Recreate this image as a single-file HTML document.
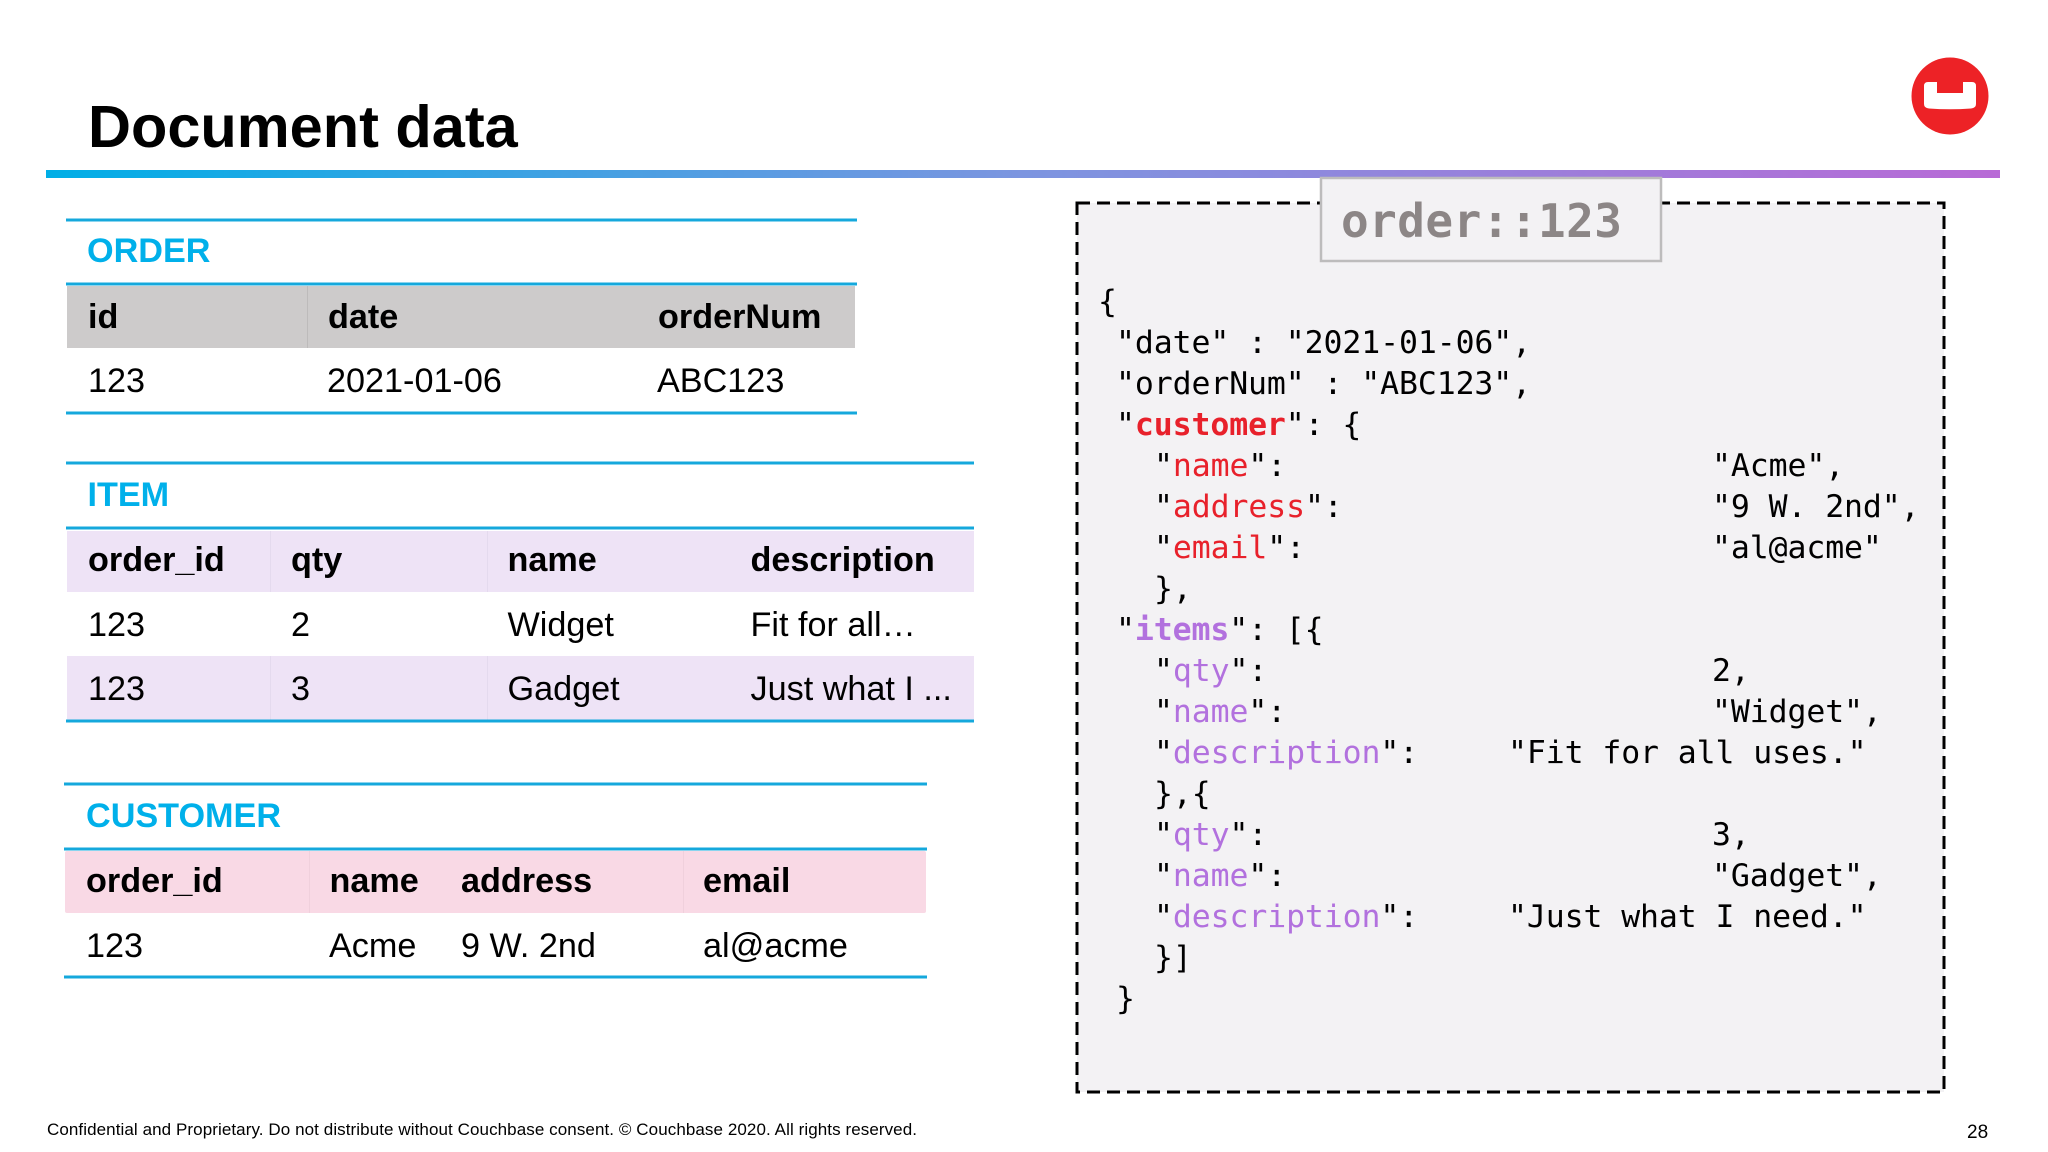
<!DOCTYPE html>
<html><head><meta charset="utf-8"><style>
html,body{margin:0;padding:0;background:#fff;width:2048px;height:1152px;overflow:hidden}
svg{display:block}
.s{font-family:"Liberation Sans",sans-serif;font-size:34.2px;fill:#000}
.b{font-weight:bold}
.t{fill:#00b0ea;font-weight:bold}
.m{font-family:"DejaVu Sans Mono","Liberation Mono",monospace;font-size:31.5px;letter-spacing:-.1px;fill:#000;white-space:pre}
.r{fill:#e8212b}
.p{fill:#b271de}
</style></head><body>
<svg width="2048" height="1152" viewBox="0 0 2048 1152" xmlns="http://www.w3.org/2000/svg">
<defs><linearGradient id="g" x1="0" x2="1" y1="0" y2="0"><stop offset="0" stop-color="#00aee6"/><stop offset=".5" stop-color="#7c95e0"/><stop offset="1" stop-color="#b86ad6"/></linearGradient></defs>
<rect width="2048" height="1152" fill="#fff"/>
<text x="88" y="147" font-family="Liberation Sans" font-weight="bold" font-size="59.500">Document data</text>
<rect x="46" y="170" width="1954" height="8" fill="url(#g)"/>
<circle cx="1950" cy="96" r="38.5" fill="#ed2226"/>
<path d="M1928 82H1937V93H1963V82H1972Q1976 82 1976 86V104Q1976 108 1971 108.500Q1950 110 1929 108.500Q1924 108 1924 104V86Q1924 82 1928 82Z" fill="#fff"/>

<!-- ORDER -->
<rect x="67" y="286" width="788" height="62" fill="#cdcbcb"/>
<rect x="307" y="286" width="1" height="62" fill="#bdbbbb"/>
<g fill="#15a8dc"><rect x="66" y="218.500" width="791" height="3"/><rect x="66" y="282.500" width="791" height="3"/><rect x="66" y="411.500" width="791" height="3"/></g>
<text class="s t" x="87" y="262">ORDER</text>
<g class="s b"><text x="88" y="328">id</text><text x="328" y="328">date</text><text x="658" y="328">orderNum</text></g>
<g class="s"><text x="88" y="392">123</text><text x="327" y="392">2021-01-06</text><text x="657" y="392">ABC123</text></g>

<!-- ITEM -->
<rect x="67" y="531" width="907" height="61" fill="#eee3f6"/>
<rect x="67" y="656" width="907" height="64" fill="#eee3f6"/>
<g fill="#e4daee"><rect x="270" y="531" width="1" height="61"/><rect x="487" y="531" width="1" height="61"/><rect x="270" y="656" width="1" height="64"/><rect x="487" y="656" width="1" height="64"/></g>
<g fill="#15a8dc"><rect x="66" y="461.500" width="908" height="3"/><rect x="66" y="526.500" width="908" height="3"/><rect x="66" y="719.500" width="908" height="3"/></g>
<text class="s t" x="87.500" y="506">ITEM</text>
<g class="s b"><text x="88" y="571">order_id</text><text x="291" y="571">qty</text><text x="507.500" y="571">name</text><text x="750.500" y="571">description</text></g>
<g class="s"><text x="88" y="636">123</text><text x="291" y="636">2</text><text x="507.500" y="636">Widget</text><text x="750.500" y="636">Fit for all…</text>
<text x="88" y="700">123</text><text x="291" y="700">3</text><text x="507.500" y="700">Gadget</text><text x="750.500" y="700">Just what I ...</text></g>

<!-- CUSTOMER -->
<rect x="65" y="851" width="861" height="62" rx="2" fill="#f9d9e5"/>
<g fill="#f0d0dc"><rect x="309" y="851" width="1" height="62"/><rect x="683" y="851" width="1" height="62"/></g>
<g fill="#15a8dc"><rect x="64" y="782.500" width="863" height="3"/><rect x="64" y="847.500" width="863" height="3"/><rect x="64" y="975.500" width="863" height="3"/></g>
<text class="s t" x="86" y="827">CUSTOMER</text>
<g class="s b"><text x="86" y="892">order_id</text><text x="329.500" y="892">name</text><text x="461" y="892">address</text><text x="703" y="892">email</text></g>
<g class="s"><text x="86" y="957">123</text><text x="329" y="957">Acme</text><text x="461" y="957">9 W. 2nd</text><text x="703" y="957">al@acme</text></g>

<!-- Document box -->
<rect x="1077" y="203" width="867" height="889" fill="#f3f2f4" stroke="#000" stroke-width="3" stroke-dasharray="13 7"/>
<rect x="1321" y="178" width="340" height="83" fill="#f3f2f4" stroke="#bdbcbc" stroke-width="2.500"/>
<text x="1341" y="237" font-family="DejaVu Sans Mono,Liberation Mono,monospace" font-weight="bold" font-size="46" fill="#8c8686" textLength="281">order::123</text>

<g class="m">
<text x="1098" y="312">{</text>
<text x="1116" y="353">"date" : "2021-01-06",</text>
<text x="1116" y="394">"orderNum" : "ABC123",</text>
<text x="1116" y="435">"<tspan class="r" font-weight="bold">customer</tspan>": {</text>
<text x="1154" y="476">"<tspan class="r">name</tspan>":</text><text x="1712" y="476">"Acme",</text>
<text x="1154" y="517">"<tspan class="r">address</tspan>":</text><text x="1712" y="517">"9 W. 2nd",</text>
<text x="1154" y="558">"<tspan class="r">email</tspan>":</text><text x="1712" y="558">"al@acme"</text>
<text x="1154" y="599">},</text>
<text x="1116" y="640">"<tspan class="p" font-weight="bold">items</tspan>": [{</text>
<text x="1154" y="681">"<tspan class="p">qty</tspan>":</text><text x="1712" y="681">2,</text>
<text x="1154" y="722">"<tspan class="p">name</tspan>":</text><text x="1712" y="722">"Widget",</text>
<text x="1154" y="763">"<tspan class="p">description</tspan>":</text><text x="1508" y="763">"Fit for all uses."</text>
<text x="1154" y="804">},{</text>
<text x="1154" y="845">"<tspan class="p">qty</tspan>":</text><text x="1712" y="845">3,</text>
<text x="1154" y="886">"<tspan class="p">name</tspan>":</text><text x="1712" y="886">"Gadget",</text>
<text x="1154" y="927">"<tspan class="p">description</tspan>":</text><text x="1508" y="927">"Just what I need."</text>
<text x="1154" y="968">}]</text>
<text x="1116" y="1009">}</text>
</g>

<text x="47" y="1135" font-family="Liberation Sans" font-size="17" textLength="870">Confidential and Proprietary. Do not distribute without Couchbase consent. © Couchbase 2020. All rights reserved.</text>
<text x="1967" y="1138" font-family="Liberation Sans" font-size="19">28</text>
</svg>
</body></html>
